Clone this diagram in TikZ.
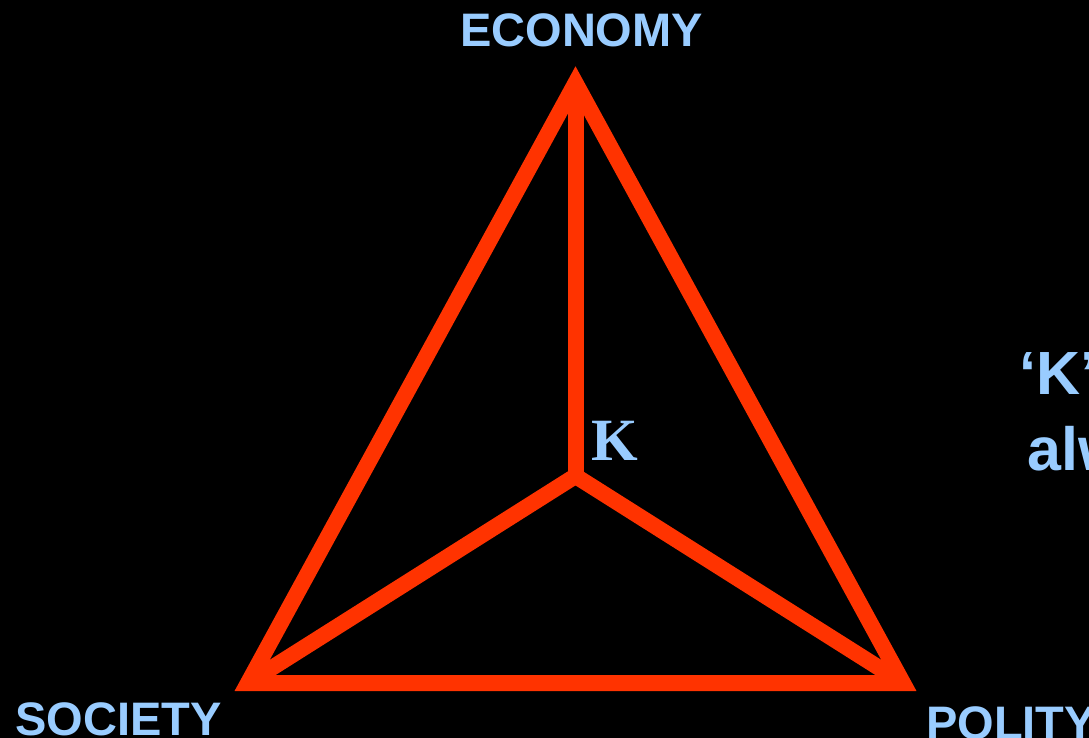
\documentclass[tikz,border=0pt]{standalone}
\usepackage{fontspec}
\setmainfont{Liberation Sans}
\newfontfamily\kserif{Liberation Serif}
\definecolor{triRed}{HTML}{FF3300}
\definecolor{triBlue}{HTML}{99CCFF}
\tikzset{
  tri edge/.style={draw=triRed, line width=16pt, line join=miter},
  tri label/.style={font=\fontsize{47}{52}\selectfont\bfseries, text=triBlue, inner sep=0pt, anchor=base west},
  tri big label/.style={font=\fontsize{61}{66}\selectfont\bfseries, text=triBlue, inner sep=0pt, anchor=base west},
  tri k/.style={font=\fontsize{60}{64}\selectfont\kserif\bfseries, text=triBlue, inner sep=0pt},
}

\begin{document}
\begin{tikzpicture}[x=1pt, y=-1pt]
  % Black page, clipped to the slide frame
  \fill[black] (0,0) rectangle (1089,738);
  \useasboundingbox (0,0) rectangle (1089,738);
  \clip (0,0) rectangle (1089,738);

  % Corners and centre
  \coordinate (eco) at (575.5,83);
  \coordinate (soc) at (248,683);
  \coordinate (pol) at (903,683);
  \coordinate (k) at (575.5,476);

  % Triangle and spokes
  \draw[tri edge] (soc) -- (eco) -- (pol) -- cycle;
  \draw[tri edge] (eco) -- (k);
  \draw[tri edge] (soc) -- (k) -- (pol);

  % Labels
  \node[tri label] (ecoLabel) at (460,47) {ECONOMY};
  \node[tri label] (socLabel) at (15,735) {SOCIETY};
  \node[tri label] (polLabel) at (926,739) {POLITY};
  \node[tri k] (kLabel) at (615,441) {K};

  % Side note, cut by the frame
  \node[tri big label] (noteK) at (1019,394) {‘K’};
  \node[tri big label] (noteAlw) at (1027,470) {alw};
\end{tikzpicture}
\end{document}
